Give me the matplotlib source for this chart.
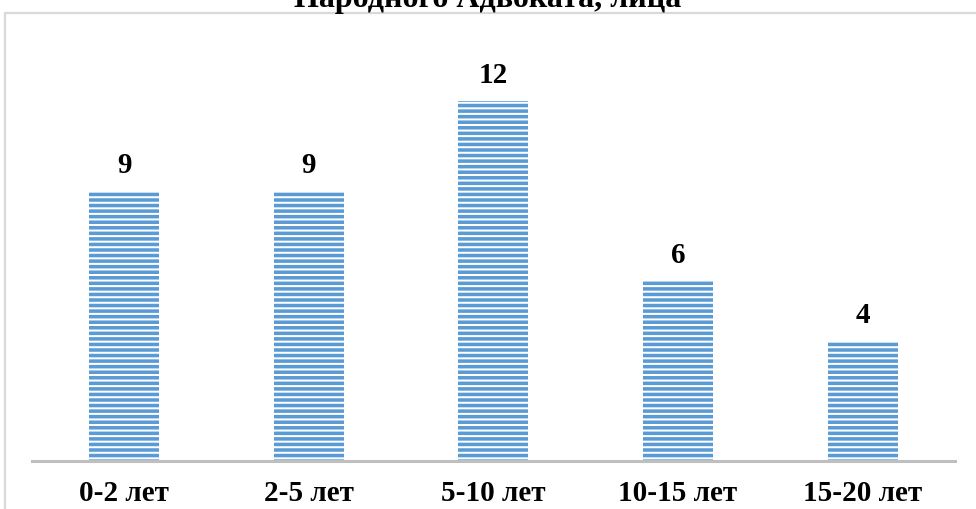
import matplotlib.pyplot as plt
from matplotlib.patches import Rectangle

categories = ['0-2 лет', '2-5 лет', '5-10 лет', '10-15 лет', '15-20 лет']
values = [9, 9, 12, 6, 4]
title = 'Народного Адвоката, лица'

plt.rcParams['font.family'] = ['Liberation Serif', 'DejaVu Serif']
plt.rcParams['font.weight'] = 'bold'
plt.rcParams['hatch.linewidth'] = 1.45

fig = plt.figure(figsize=(9.76, 5.09), dpi=100)

# outer chart border (cropped at right/bottom in the reference)
fig.patches.append(Rectangle((5 / 976, -0.1), 1.2, 1 - 13 / 509 + 0.1,
                             transform=fig.transFigure, fill=False,
                             edgecolor='#D9D9D9', linewidth=1.6))

# title is cut off at the top edge, same as the source image
fig.text(0.5, 1 - 7 / 509, title, ha='center', va='baseline',
         fontsize=23, fontweight='bold')

ax = fig.add_axes([31.7 / 976, 1 - 461 / 509, (955 - 31.7) / 976, (461 - 41) / 509])
x = range(len(categories))
bars = ax.bar(x, values, width=0.38, color='#5B9BD5', edgecolor='white',
              linewidth=0, hatch='---')
ax.set_xlim(-0.5, len(categories) - 0.5)
ax.set_ylim(0, 14)

for rect, v in zip(bars, values):
    ax.annotate(str(v), (rect.get_x() + rect.get_width() / 2, v),
                xytext=(0, 13), textcoords='offset points',
                ha='center', va='baseline', fontsize=21, fontweight='bold')

ax.set_xticks(list(x))
ax.set_xticklabels(categories, fontsize=21, fontweight='bold')
ax.tick_params(axis='x', length=0, pad=14)
ax.set_yticks([])
for s in ['top', 'right', 'left']:
    ax.spines[s].set_visible(False)
ax.spines['bottom'].set_color('#BFBFBF')
ax.spines['bottom'].set_linewidth(2.2)
ax.patch.set_alpha(0)

fig.savefig('out.png', dpi=100)
